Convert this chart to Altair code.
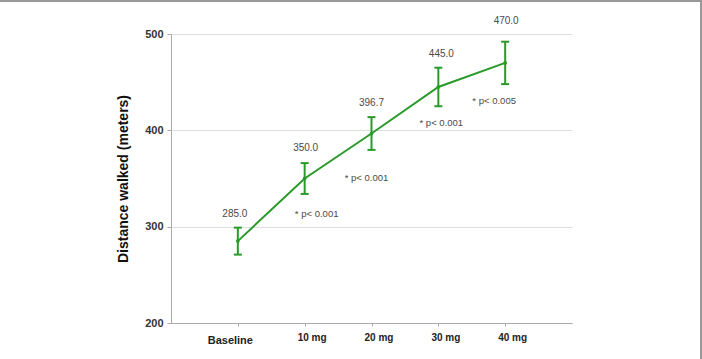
import altair as alt
import pandas as pd

categories = ["Baseline", "10 mg", "20 mg", "30 mg", "40 mg"]
means = [285.0, 350.0, 396.7, 445.0, 470.0]
errors = [14, 16, 17, 20, 22]
value_labels = ["285.0", "350.0", "396.7", "445.0", "470.0"]
p_labels = ["", "* p< 0.001", "* p< 0.001", "* p< 0.001", "* p< 0.005"]

df = pd.DataFrame({
    "cat": categories,
    "mean": means,
    "low": [m - e for m, e in zip(means, errors)],
    "high": [m + e for m, e in zip(means, errors)],
    "vlabel": value_labels,
    "plabel": p_labels,
})

GREEN = "#2a9a2a"
W, H = 401, 289
PL, PT = 171, 34

xenc = alt.X("cat:N", sort=categories,
             scale=alt.Scale(type="point", padding=1),
             axis=alt.Axis(title=None, labelFont="Liberation Sans", labelFontWeight="bold",
                           labelFontSize=alt.ExprRef("datum.value == 'Baseline' ? 11 : 10"),
                           labelOffset=alt.ExprRef("datum.value == 'Baseline' ? -8 : 7"),
                           labelColor="#222", labelPadding=alt.ExprRef("datum.value == 'Baseline' ? 8 : 6"),
                           domainColor="#aaaaaa", tickColor="#aaaaaa", tickSize=3,
                           labelAngle=0, grid=False))
yscale = alt.Scale(domain=[200, 500])

base = alt.Chart(df)

line = base.mark_line(color=GREEN, strokeWidth=2).encode(
    x=xenc,
    y=alt.Y("mean:Q", scale=yscale,
            axis=alt.Axis(values=[200, 300, 400, 500], title="Distance walked (meters)",
                          titleFont="Liberation Sans", titleFontWeight="bold", titleFontSize=14,
                          titleColor="#111", titlePadding=14,
                          labelFont="Liberation Sans", labelFontWeight="bold", labelFontSize=11,
                          labelColor="#333", labelPadding=4,
                          domainColor="#aaaaaa", tickColor="#aaaaaa", tickSize=4,
                          gridColor="#dddddd", gridWidth=1)),
)
points = base.mark_point(filled=True, color=GREEN, size=14, opacity=1).encode(
    x=alt.X("cat:N", sort=categories), y=alt.Y("mean:Q"))
bars = base.mark_rule(color=GREEN, strokeWidth=2).encode(
    x=alt.X("cat:N", sort=categories), y=alt.Y("low:Q"), y2="high:Q")
caps_lo = base.mark_tick(color=GREEN, thickness=2, size=8, opacity=1).encode(
    x=alt.X("cat:N", sort=categories), y=alt.Y("low:Q"))
caps_hi = base.mark_tick(color=GREEN, thickness=2, size=8, opacity=1).encode(
    x=alt.X("cat:N", sort=categories), y=alt.Y("high:Q"))

layers = [line, bars, caps_lo, caps_hi, points]

v_dx = [-3, 1, 0, 3, 1]
v_dy = [-14, -15, -14, -14, -21]
p_dx = [0, 12, -5, 3, -11]
p_dy = [0, 20, 28, 17, 17]

for i, c in enumerate(categories):
    sub = base.transform_filter(alt.datum.cat == c)
    layers.append(sub.mark_text(font="Liberation Sans", fontSize=10, color="#4a4a4a",
                                dx=v_dx[i], dy=v_dy[i], baseline="middle").encode(
        x=alt.X("cat:N", sort=categories), y=alt.Y("high:Q"), text="vlabel:N"))
    if p_labels[i]:
        layers.append(sub.mark_text(font="Liberation Sans", fontSize=9.5, color="#4a4a4a",
                                    dx=p_dx[i], dy=p_dy[i], baseline="middle").encode(
            x=alt.X("cat:N", sort=categories), y=alt.Y("low:Q"), text="plabel:N"))

border_top = alt.Chart(pd.DataFrame({"a": [0]})).mark_rule(color="#999999", strokeWidth=2, clip=False).encode(
    x=alt.value(-PL), x2=alt.value(702 - PL), y=alt.value(-PT + 1))
border_right = alt.Chart(pd.DataFrame({"a": [0]})).mark_rule(color="#999999", strokeWidth=2, clip=False).encode(
    x=alt.value(702 - PL - 1), y=alt.value(-PT), y2=alt.value(359 - PT))
layers += [border_top, border_right]

chart = alt.layer(*layers).properties(
    width=W, height=H,
    autosize=alt.AutoSizeParams(type="none"),
    padding={"left": PL, "top": PT, "right": 702 - PL - W, "bottom": 359 - PT - H},
    background="#ffffff",
).configure_view(stroke=None)

chart.save("out.html", embed_options={"renderer": "svg", "actions": False})
